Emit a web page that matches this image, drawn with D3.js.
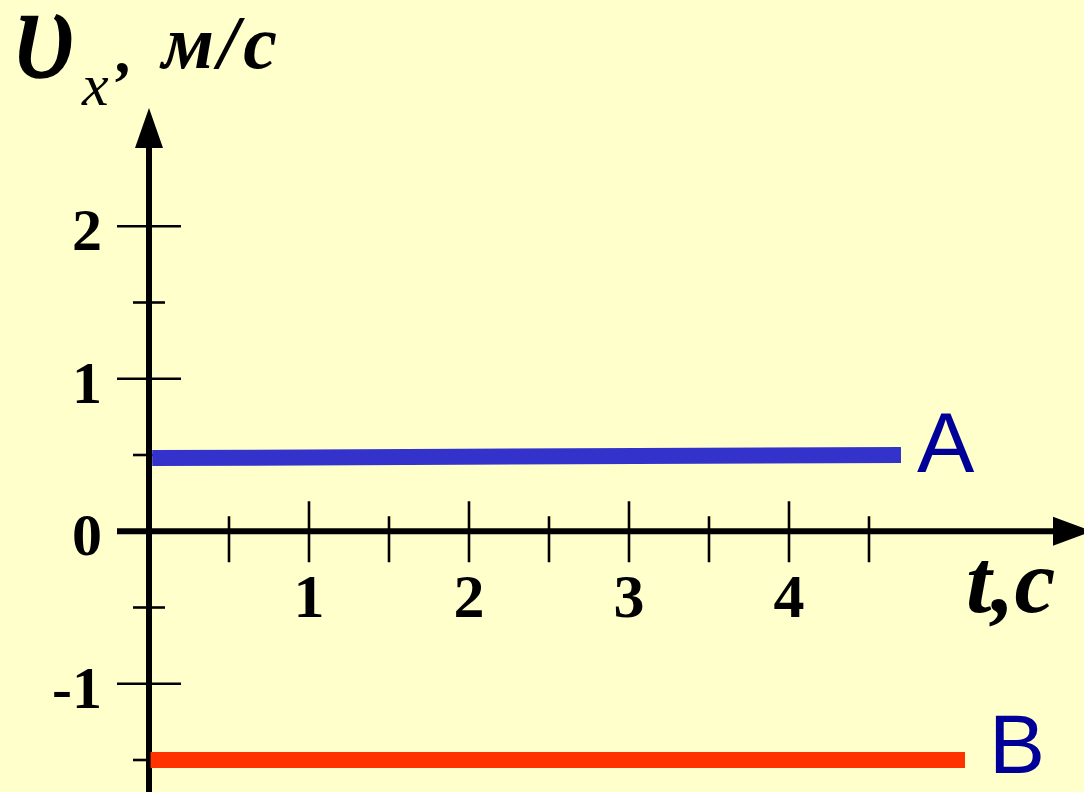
<!DOCTYPE html>
<html>
<head>
<meta charset="utf-8">
<script src="https://cdn.jsdelivr.net/npm/d3@7/dist/d3.min.js"></script>
<style>
html, body { margin: 0; padding: 0; background: #FFFFCC; }
svg { display: block; }
</style>
</head>
<body>
<script>
// ---- data ----
const xMajorTicks = [1, 2, 3, 4];
const xMinorTicks = [0.5, 1.5, 2.5, 3.5, 4.5];
const yMajorTicks = [-1, 1, 2];
const yMinorTicks = [-1.5, -0.5, 0.5, 1.5];
const xTickLabels = ["1", "2", "3", "4"];
const yTickValues = [2, 1, 0, -1];
const yTickLabels = ["2", "1", "0", "-1"];
const seriesNames = ["A", "B"];
const seriesA_t = [0.02, 4.7];
const seriesA_v = [0.48, 0.5];
const seriesB_t = [0.01, 5.1];
const seriesB_v = [-1.5, -1.5];

const W = 1084, H = 792;
const svg = d3.select("body").append("svg").attr("width", W).attr("height", H);
svg.append("rect").attr("width", W).attr("height", H).attr("fill", "#FFFFCC");

const x = d3.scaleLinear().domain([0, 5]).range([149, 949]);
const y = d3.scaleLinear().domain([-1.5, 2.5]).range([760, 150]);

const serif = "'Liberation Serif', 'Times New Roman', serif";
const sans = "'Liberation Sans', Arial, sans-serif";

// ---- ticks ----
const g = svg.append("g");
g.selectAll(".xmaj").data(xMajorTicks).enter().append("line")
  .attr("x1", d => x(d)).attr("x2", d => x(d))
  .attr("y1", y(0) - 30).attr("y2", y(0) + 31)
  .attr("stroke", "#000").attr("stroke-width", 2.6);
g.selectAll(".xmin").data(xMinorTicks).enter().append("line")
  .attr("x1", d => x(d)).attr("x2", d => x(d))
  .attr("y1", y(0) - 15).attr("y2", y(0) + 31)
  .attr("stroke", "#000").attr("stroke-width", 2.6);
g.selectAll(".ymaj").data(yMajorTicks).enter().append("line")
  .attr("x1", x(0) - 32).attr("x2", x(0) + 32)
  .attr("y1", d => y(d)).attr("y2", d => y(d))
  .attr("stroke", "#000").attr("stroke-width", 2.6);
g.selectAll(".ymin").data(yMinorTicks).enter().append("line")
  .attr("x1", x(0) - 16).attr("x2", x(0) + 16)
  .attr("y1", d => y(d)).attr("y2", d => y(d))
  .attr("stroke", "#000").attr("stroke-width", 2.6);

// ---- axes ----
svg.append("line").attr("x1", 117).attr("x2", 1056)
  .attr("y1", y(0)).attr("y2", y(0)).attr("stroke", "#000").attr("stroke-width", 6);
svg.append("line").attr("x1", x(0)).attr("x2", x(0))
  .attr("y1", H).attr("y2", 146).attr("stroke", "#000").attr("stroke-width", 6);
// arrows
svg.append("path")
  .attr("d", `M${x(0)},108 L${x(0) - 14},148 L${x(0) + 14},148 Z`).attr("fill", "#000");
svg.append("path")
  .attr("d", `M1092,${y(0)} L1053,${y(0) - 14.5} L1053,${y(0) + 14.5} Z`).attr("fill", "#000");

// ---- series ----
const line = d3.line().x(d => x(d[0])).y(d => y(d[1]));
const dataA = d3.zip(seriesA_t, seriesA_v);
const dataB = d3.zip(seriesB_t, seriesB_v);
svg.append("path").attr("d", line(dataA)).attr("fill", "none")
  .attr("stroke", "#3333CC").attr("stroke-width", 16);
svg.append("path").attr("d", line(dataB)).attr("fill", "none")
  .attr("stroke", "#FF3300").attr("stroke-width", 16);

// series labels
svg.append("text").attr("x", 917).attr("y", 472)
  .attr("font-family", sans).attr("font-size", 86).attr("fill", "#000099")
  .text(seriesNames[0]);
svg.append("text").attr("x", 989).attr("y", 773)
  .attr("font-family", sans).attr("font-size", 84).attr("fill", "#000099")
  .text(seriesNames[1]);

// ---- tick labels ----
svg.selectAll(".xl").data(xMajorTicks).enter().append("text")
  .attr("x", d => x(d)).attr("y", 617)
  .attr("text-anchor", "middle")
  .attr("font-family", serif).attr("font-weight", "bold").attr("font-size", 62)
  .text((d, i) => xTickLabels[i]);
svg.selectAll(".yl").data(yTickValues).enter().append("text")
  .attr("x", 102).attr("y", d => y(d) + 24)
  .attr("text-anchor", "end")
  .attr("font-family", serif).attr("font-weight", "bold").attr("font-size", 60)
  .text((d, i) => yTickLabels[i]);

// ---- axis titles ----
const yt = svg.append("text").attr("x", 14).attr("y", 77)
  .attr("font-family", serif).attr("font-style", "italic").attr("fill", "#000");
yt.append("tspan").attr("font-size", 132).attr("stroke", "#000").attr("stroke-width", 1.6).text("υ");
yt.append("tspan").attr("font-size", 60).attr("x", 82).attr("y", 105).text("x");
yt.append("tspan").attr("font-size", 64).attr("font-weight", "bold").attr("y", 105).text("’");
yt.append("tspan").attr("font-size", 76).attr("font-weight", "bold").attr("letter-spacing", 4)
  .attr("x", 162).attr("y", 68).text("м/с");

svg.append("text").attr("x", 966).attr("y", 612)
  .attr("font-family", serif).attr("font-style", "italic").attr("font-weight", "bold")
  .attr("font-size", 92).text("t,c");
</script>
</body>
</html>
